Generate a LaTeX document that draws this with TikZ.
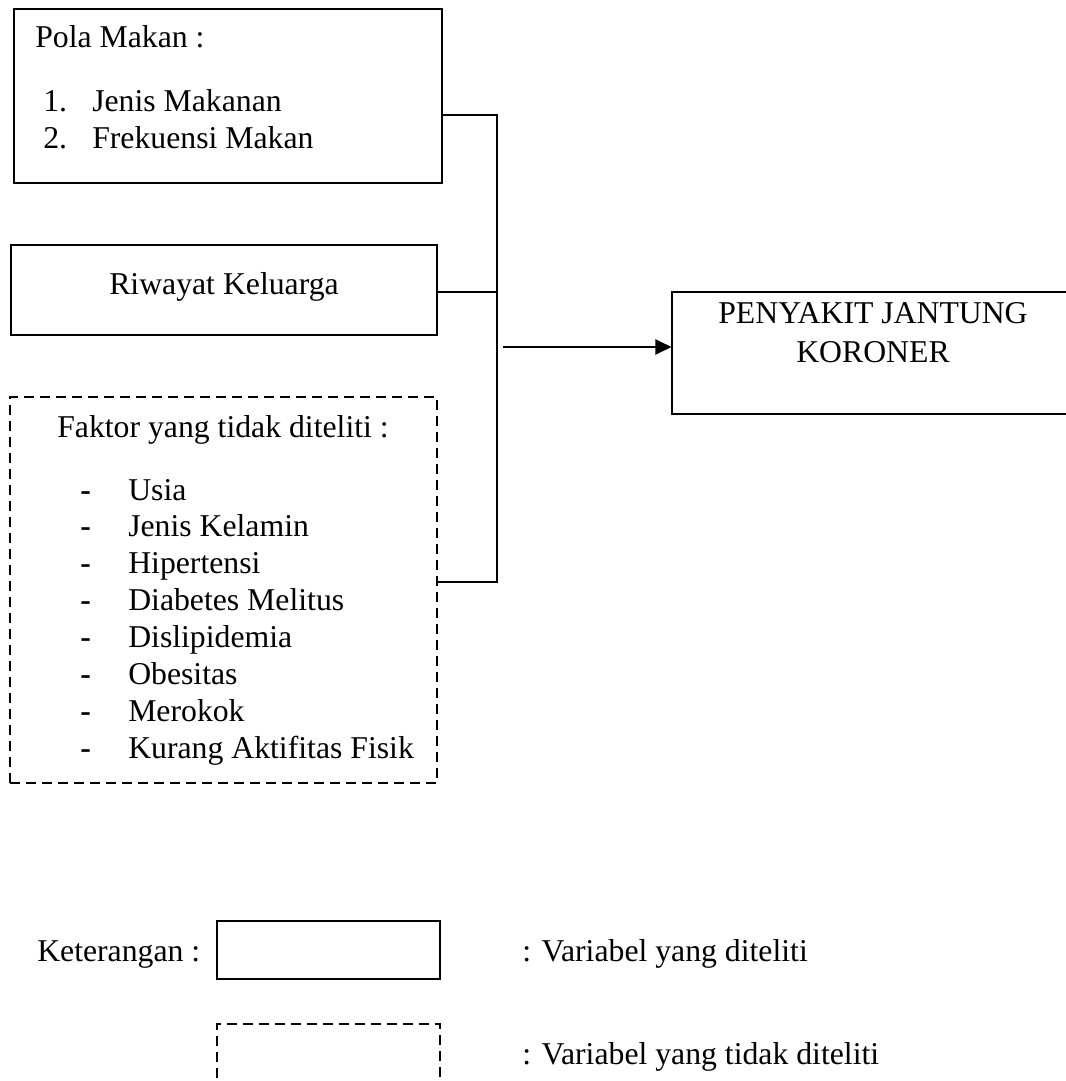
\documentclass[tikz,border=0pt]{standalone}
\usepackage{fontspec}
\setmainfont{Liberation Serif}
\usetikzlibrary{arrows.meta,fit}

\tikzset{
  box/.style={draw,line width=0.9pt,inner sep=0pt},
  dashbox/.style={draw,line width=0.9pt,inner sep=0pt,dash pattern=on 7.5pt off 4.5pt},
  txt/.style={inner sep=0pt,anchor=base west,font=\fontsize{23.8}{27.6}\selectfont},
  link/.style={line width=0.9pt},
  arrow/.style={line width=0.9pt,-{Triangle[length=12pt,width=11.5pt]}}
}

\begin{document}
\begin{tikzpicture}[x=0.75pt,y=-0.75pt]
    \useasboundingbox (0,0) rectangle (1065,1081);
    \node[box,fit={(14,9) (442,183)}] (pola) {};
    \node[txt] (polahead) at (35,48) {Pola Makan :};
    \node[txt] (n1) at (43,112) {1.};
    \node[txt] (jenis) at (92,112) {Jenis Makanan};
    \node[txt] (n2) at (43,148) {2.};
    \node[txt] (frek) at (92,148) {Frekuensi Makan};
    \node[box,fit={(11,245) (437,335)}] (riwayat) {};
    \node[txt,anchor=base] (riwayattxt) at (224,294) {Riwayat Keluarga};
    \node[dashbox,fit={(10,397) (437,783)}] (faktor) {};
    \node[txt] (faktorhead) at (57,437) {Faktor yang tidak diteliti :};
    \foreach \faktoritem [count=\i from 0] in {Usia,Jenis Kelamin,Hipertensi,Diabetes Melitus,Dislipidemia,Obesitas,Merokok,Kurang Aktifitas Fisik}{
        \node[txt] (dash\i) at (80,500+36.9*\i) {\textbf{-}};
        \node[txt] (faktor\i) at (128,500+36.9*\i) {\faktoritem};
    }
    \node[box,fit={(672,292) (1080,414)}] (pjk) {};
    \node[txt,anchor=base] (pjk1) at (873,323) {PENYAKIT JANTUNG};
    \node[txt,anchor=base] (pjk2) at (873,362) {KORONER};
    \coordinate (bustop) at (497,115);
    \coordinate (busmid) at (497,292);
    \coordinate (busbot) at (497,582);
    \coordinate (busout) at (503,347);
    \draw[link] (bustop -| pola.east) -- (bustop) -- (busbot) -- (busbot -| faktor.east);
    \draw[link] (busmid -| riwayat.east) -- (busmid);
    \draw[arrow] (busout) -- (busout -| pjk.west);
    \node[txt] (ket) at (37,961) {Keterangan :};
    \node[box,line width=1.4pt,fit={(217,921) (440,979)}] (legditeliti) {};
    \node[txt] (legtxt1) at (522,961) {: Variabel yang diteliti};
    \node[dashbox,fit={(217,1024) (440,1110)}] (legtidak) {};
    \node[txt] (legtxt2) at (522,1064) {: Variabel yang tidak diteliti};
\end{tikzpicture}
\end{document}
